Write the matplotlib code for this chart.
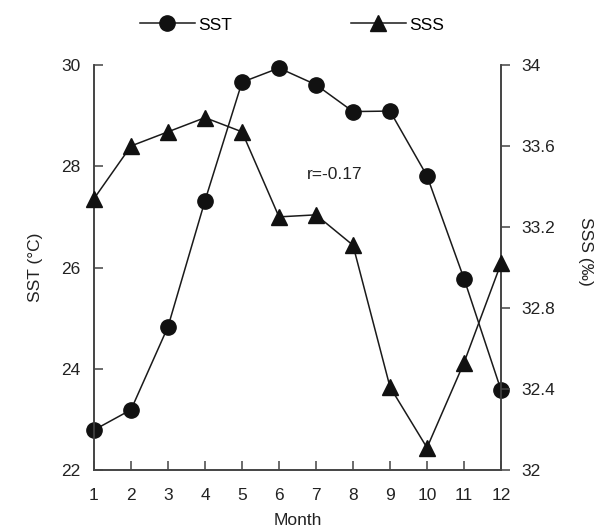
import matplotlib.pyplot as plt

plt.rcParams['font.family'] = ['Liberation Sans', 'DejaVu Sans']

# Monthly means
months = [1, 2, 3, 4, 5, 6, 7, 8, 9, 10, 11, 12]
sst = [22.79, 23.19, 24.83, 27.32, 29.66, 29.94, 29.61, 29.08, 29.09, 27.81, 25.78, 23.58]
sss = [33.34, 33.60, 33.67, 33.74, 33.67, 33.25, 33.26, 33.11, 32.41, 32.11, 32.53, 33.02]
sst_ticks = [22, 24, 26, 28, 30]
sss_ticks = [32, 32.4, 32.8, 33.2, 33.6, 34]
r_text = 'r=-0.17'

fig = plt.figure(figsize=(5.97, 5.32), dpi=100)
ax = fig.add_axes([94 / 597, 1 - 470 / 532, 407 / 597, 405 / 532])
ax2 = ax.twinx()

line_col = '#1a1a1a'
spine_col = '#444444'

l1, = ax.plot(months, sst, color=line_col, lw=1.1, marker='o', ms=11,
              mfc='#111111', mec='#111111', clip_on=False, zorder=3, label='SST')
l2, = ax2.plot(months, sss, color=line_col, lw=1.1, marker='^', ms=11,
               mfc='#111111', mec='#111111', clip_on=False, zorder=3, label='SSS')

ax.set_xlim(1, 12)
ax.set_ylim(22, 30)
ax2.set_ylim(32, 34)
ax.set_xticks(months)
ax.set_yticks(sst_ticks)
ax2.set_yticks(sss_ticks)
ax2.set_yticklabels([f'{t:g}' for t in sss_ticks])

for a in (ax, ax2):
    a.spines['top'].set_visible(False)
    for s in ('left', 'right', 'bottom'):
        a.spines[s].set_color(spine_col)
        a.spines[s].set_linewidth(1.2)

ax.tick_params(axis='x', direction='in', length=6.5, width=1.1, color=spine_col,
               labelsize=12.5, labelcolor='#222222', pad=13)
ax.tick_params(axis='y', direction='in', length=6.5, width=1.1, color=spine_col,
               labelsize=12.5, labelcolor='#222222', pad=10)
ax2.tick_params(axis='y', direction='out', length=6.5, width=1.1, color=spine_col,
                labelsize=12.5, labelcolor='#222222', pad=8)

ax.text(6.76, 27.83, r_text, va='center', ha='left', fontsize=12.5, color='#222222')

ax.set_xlabel('Month', fontsize=12.5, color='#222222')
ax.xaxis.set_label_coords(0.5, -0.105)
ax.set_ylabel('SST (°C)', fontsize=12.5, color='#222222')
ax.yaxis.set_label_coords(-0.125, 0.5)
ax2.set_ylabel('SSS (‰)', fontsize=12.5, color='#222222', rotation=270, va='bottom')
ax2.yaxis.set_label_coords(1.19, 0.54)

fig.legend(handles=[l1, l2], loc='center', bbox_to_anchor=(292 / 597, 1 - 25 / 532),
           ncol=2, frameon=False, fontsize=12.5, handlelength=3.2,
           handletextpad=0.2, columnspacing=6.8)

fig.savefig('out.png', dpi=100)
